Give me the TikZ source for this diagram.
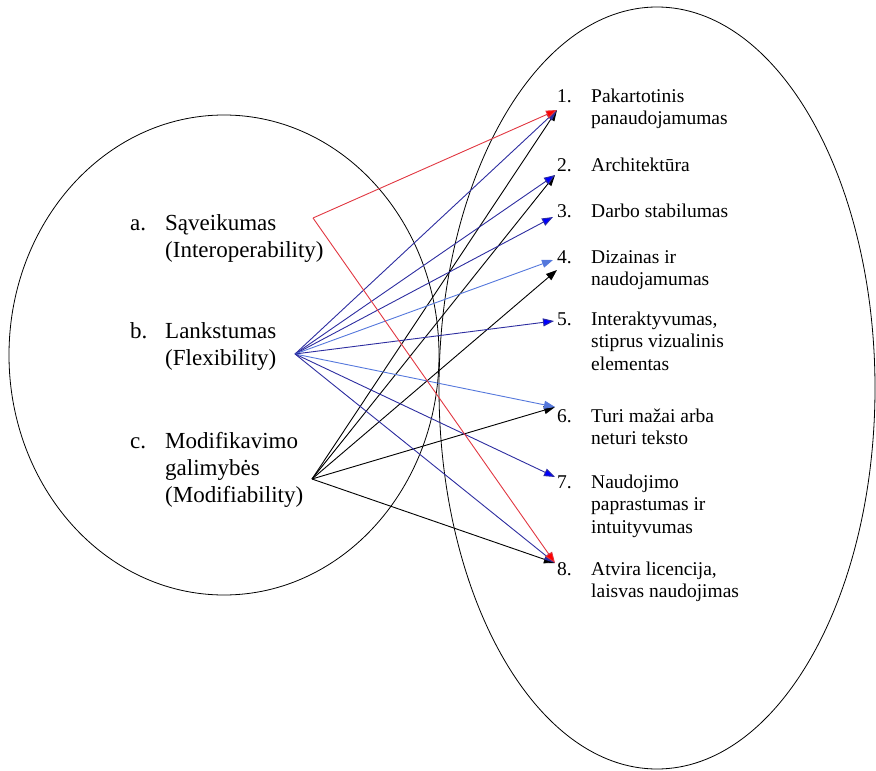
\documentclass[tikz,border=0pt]{standalone}
\usepackage{fontspec}
\setmainfont{Liberation Serif}
\usetikzlibrary{arrows.meta,shapes.geometric}
\definecolor{navyline}{RGB}{45,45,160}
\definecolor{paleline}{RGB}{85,120,220}
\definecolor{redline}{RGB}{225,55,65}
\newcommand{\itemtext}[1]{\begin{tabular}[t]{@{}l@{}}#1\end{tabular}}
\tikzset{
  set/.style={draw, ellipse, line width=0.8pt, inner sep=0pt},
  lefttext/.style={anchor=base west, inner sep=0pt, font=\fontsize{23}{27}\selectfont},
  righttext/.style={anchor=base west, inner sep=0pt, font=\fontsize{19.5}{22.5}\selectfont},
  link/.style={-{Triangle[length=11pt,width=8pt]}, line width=0.9pt},
  bluetip/.style={-{Triangle[length=11pt,width=8pt,fill=blue]}},
  redtip/.style={-{Triangle[length=11pt,width=8pt,fill=red]}},
}
\begin{document}
\begin{tikzpicture}[x=1pt,y=-1pt]
      \useasboundingbox (0,0) rectangle (876,771);
      \node[set, minimum width=430pt, minimum height=480pt] (left) at (224,355) {};
      \node[set, minimum width=436pt, minimum height=762pt] (right) at (657,388) {};
      \draw
        (130,230) node[lefttext] (la){a.}
        (165,230) node[lefttext] (ta){\itemtext{Sąveikumas\\(Interoperability)}}
        (130,338) node[lefttext] (lb){b.}
        (165,338) node[lefttext] (tb){\itemtext{Lankstumas\\(Flexibility)}}
        (130,448) node[lefttext] (lc){c.}
        (165,448) node[lefttext] (tc){\itemtext{Modifikavimo\\galimybės\\(Modifiability)}};
      \draw
        (557,102) node[righttext] (n1){1.}
        (591,102) node[righttext] (i1){\itemtext{Pakartotinis\\panaudojamumas}}
        (557,171) node[righttext] (n2){2.}
        (591,171) node[righttext] (i2){Architektūra}
        (557,217) node[righttext] (n3){3.}
        (591,217) node[righttext] (i3){Darbo stabilumas}
        (557,263) node[righttext] (n4){4.}
        (591,263) node[righttext] (i4){\itemtext{Dizainas ir\\naudojamumas}}
        (557,325) node[righttext] (n5){5.}
        (591,325) node[righttext] (i5){\itemtext{Interaktyvumas,\\stiprus vizualinis\\elementas}}
        (557,422) node[righttext] (n6){6.}
        (591,422) node[righttext] (i6){\itemtext{Turi mažai arba\\neturi teksto}}
        (557,488) node[righttext] (n7){7.}
        (591,488) node[righttext] (i7){\itemtext{Naudojimo\\paprastumas ir\\intuityvumas}}
        (557,575) node[righttext] (n8){8.}
        (591,575) node[righttext] (i8){\itemtext{Atvira licencija,\\laisvas naudojimas}};
      \coordinate (a) at (313,218);
      \coordinate (b) at (295,354);
      \coordinate (c) at (312,479);
      \coordinate (t1) at (557,110);
      \coordinate (t2) at (555,175);
      \coordinate (t3) at (553,217);
      \coordinate (t4) at (553,260);
      \coordinate (t4b) at (557,270);
      \coordinate (t5) at (554,321);
      \coordinate (t6) at (555,407);
      \coordinate (t7) at (555,477);
      \coordinate (t8) at (555,563);
      \begin{scope}[link]
        \draw (c) to (t1);
        \draw (c) to (t2);
        \draw (c) to (t4b);
        \draw (c) to (t6);
        \draw (c) to (t8);
        \draw[navyline] (b) to (t1);
        \draw[navyline, bluetip] (b) to (t2);
        \draw[navyline, bluetip] (b) to (t3);
        \draw[paleline] (b) to (t4);
        \draw[navyline, bluetip] (b) to (t5);
        \draw[paleline] (b) to (t6);
        \draw[navyline, bluetip] (b) to (t7);
        \draw[navyline] (b) to (t8);
        \draw[redline, redtip] (a) to (t1);
        \draw[redline, redtip] (a) to (t8);
      \end{scope}
    \end{tikzpicture}
\end{document}
